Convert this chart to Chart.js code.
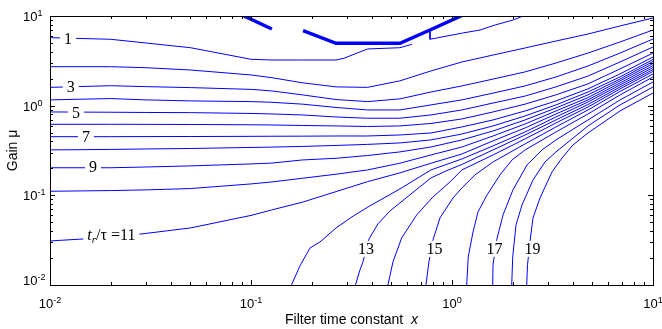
<!DOCTYPE html>
<html>
<head>
<meta charset="utf-8">
<script src="https://cdn.jsdelivr.net/npm/chart.js@4.4.0/dist/chart.umd.min.js"></script>
<style>
  html, body { margin: 0; padding: 0; background: #fff; }
  #wrap { width: 662px; height: 329px; }
</style>
</head>
<body>
<div id="wrap"><canvas id="gainChart" width="662" height="329"></canvas></div>
<script>
// Contours of t_r/tau over filter time constant x and gain mu (both log axes).
// Values.

// x positions shared by the contours that start at the left edge
const xGrid = [0.01, 0.02, 0.03, 0.05, 0.1, 0.127, 0.18, 0.265, 0.38, 0.55, 0.786, 1.12, 1.6, 2.31, 3.29, 4.75, 6.85, 10];

const gain2  = [2.72, 2.72, 2.65, 2.50, 2.20, 2.05, 1.80, 1.62, 1.60, 1.89, 2.44, 3.07, 3.67, 4.40, 5.26, 6.30, 7.74, 9.50];
const gain3  = [1.60, 1.67, 1.63, 1.59, 1.52, 1.46, 1.32, 1.17, 1.11, 1.19, 1.42, 1.66, 1.98, 2.38, 2.99, 3.86, 5.13, 6.98];
const gain4  = [1.16, 1.20, 1.16, 1.13, 1.11, 1.09, 1.04, 0.955, 0.896, 0.896, 1.02, 1.16, 1.38, 1.66, 2.09, 2.77, 3.86, 5.54];
const gain5  = [0.851, 0.845, 0.840, 0.836, 0.819, 0.808, 0.788, 0.748, 0.724, 0.724, 0.788, 0.896, 1.07, 1.28, 1.62, 2.14, 3.07, 4.51];
const gain6  = [0.620, 0.620, 0.619, 0.617, 0.612, 0.609, 0.601, 0.594, 0.586, 0.594, 0.633, 0.711, 0.851, 1.04, 1.32, 1.75, 2.57, 3.86];
const gain7  = [0.451, 0.451, 0.452, 0.453, 0.455, 0.456, 0.457, 0.459, 0.459, 0.471, 0.496, 0.579, 0.693, 0.873, 1.13, 1.54, 2.26, 3.49];
const gain8  = [0.321, 0.325, 0.329, 0.333, 0.342, 0.345, 0.351, 0.360, 0.370, 0.384, 0.415, 0.483, 0.594, 0.768, 1.02, 1.42, 2.09, 3.27];
const gain9  = [0.203, 0.203, 0.207, 0.213, 0.224, 0.229, 0.248, 0.259, 0.278, 0.305, 0.346, 0.415, 0.522, 0.693, 0.943, 1.32, 1.98, 3.11];
const gain10 = [0.111, 0.113, 0.115, 0.119, 0.134, 0.141, 0.155, 0.172, 0.192, 0.228, 0.282, 0.346, 0.459, 0.625, 0.873, 1.23, 1.89, 2.95];
const gain11 = [0.031, 0.034, 0.0376, 0.0433, 0.0597, 0.0688, 0.0838, 0.110, 0.142, 0.178, 0.228, 0.289, 0.405, 0.564, 0.808, 1.16, 1.79, 2.80];

// contour 1 (broken by the saturated ridge at the top)
const level1X  = [0.01, 0.02, 0.03, 0.05, 0.1, 0.127, 0.18, 0.265, 0.29, 0.38, 0.55, 0.632];
const level1Y  = [5.73, 5.50, 5.00, 4.43, 3.29, 3.23, 3.23, 3.23, 3.38, 4.29, 4.43, 4.84];
const level1bX = [0.777, 0.777, 1.13, 1.38, 1.64, 2.01, 2.26];
const level1bY = [6.86, 5.50, 6.46, 6.98, 7.94, 9.02, 10];

// thick ridge near the top
const ridgeAX = [0.0923, 0.127];
const ridgeAY = [10, 7.16];
const ridgeBX = [0.1815, 0.265, 0.551, 0.777, 1.109];
const ridgeBY = [6.86, 4.96, 4.96, 6.98, 10];

// contours that rise from the bottom edge
const level12X = [0.159, 0.1753, 0.1966, 0.2204, 0.265, 0.318, 0.382, 0.551, 0.786, 1.12, 1.60, 2.31, 3.29, 4.75, 6.85, 10];
const level12Y = [0.0100, 0.01637, 0.0259, 0.0302, 0.0433, 0.0575, 0.0742, 0.1179, 0.192, 0.2545, 0.356, 0.509, 0.748, 1.100, 1.701, 2.66];
const level13X = [0.331, 0.3485, 0.3607, 0.3865, 0.428, 0.4914, 0.551, 0.662, 0.786, 0.9335, 1.12, 1.60, 2.31, 3.29, 4.75, 6.85, 10];
const level13Y = [0.0100, 0.01474, 0.01815, 0.0326, 0.0480, 0.0670, 0.0823, 0.1149, 0.1562, 0.187, 0.221, 0.321, 0.471, 0.693, 1.031, 1.616, 2.53];
const level14X = [0.480, 0.5087, 0.562, 0.6675, 0.804, 0.977, 1.12, 1.60, 2.31, 3.29, 4.75, 6.85, 10];
const level14Y = [0.0100, 0.01815, 0.0335, 0.0605, 0.0960, 0.141, 0.192, 0.282, 0.426, 0.641, 0.967, 1.535, 2.41];
const level15X = [0.742, 0.768, 0.804, 0.8716, 1.0116, 1.12, 1.301, 1.60, 2.31, 3.29, 4.75, 6.85, 10];
const level15Y = [0.0100, 0.01815, 0.0318, 0.0560, 0.0935, 0.1209, 0.169, 0.2356, 0.3745, 0.579, 0.896, 1.439, 2.257];
const level16X = [1.183, 1.205, 1.272, 1.347, 1.494, 1.733, 1.989, 2.31, 3.29, 4.75, 6.85, 10];
const level16Y = [0.0100, 0.0206, 0.0390, 0.0654, 0.1010, 0.169, 0.248, 0.321, 0.509, 0.808, 1.316, 2.09];
const level17X = [1.594, 1.60, 1.669, 1.794, 2.01, 2.361, 2.805, 3.29, 4.75, 6.85, 10];
const level17Y = [0.0100, 0.0168, 0.0318, 0.0605, 0.1149, 0.218, 0.321, 0.415, 0.693, 1.158, 1.837];
const level18X = [1.982, 2.005, 2.082, 2.230, 2.529, 2.903, 3.29, 4.75, 6.85, 10];
const level18Y = [0.0100, 0.0206, 0.0468, 0.0781, 0.1485, 0.2356, 0.305, 0.594, 1.018, 1.616];
const level19X = [2.353, 2.375, 2.443, 2.529, 2.741, 3.145, 3.526, 4.0, 4.75, 6.85, 10];
const level19Y = [0.0100, 0.0168, 0.0302, 0.0560, 0.0935, 0.1824, 0.2608, 0.365, 0.496, 0.873, 1.384];

// contour labels (the "11" one gets the t_r/tau prefix)
const labelText = ['1', '3', '5', '7', '9', '11', '13', '15', '17', '19'];
const labelX = [0.0123, 0.0127, 0.01346, 0.0151, 0.01637, 0.0202, 0.373, 0.818, 1.627, 2.515];
const labelY = [5.50, 1.616, 0.840, 0.448, 0.207, 0.0362, 0.0253, 0.0253, 0.0253, 0.0253];

// decade tick labels (exponents of 10)
const tickExp = [-2, -1, 0, 1];

const BLUE = 'rgb(0,0,255)';

function line(xs, ys, width) {
  return {
    data: xs.map((x, i) => ({ x: x, y: ys[i] })),
    showLine: true,
    borderColor: BLUE,
    borderWidth: width || 1,
    pointRadius: 0,
    fill: false,
    tension: 0
  };
}

const datasets = [
  line(level1X, level1Y), line(level1bX, level1bY),
  line(xGrid, gain2), line(xGrid, gain3), line(xGrid, gain4), line(xGrid, gain5),
  line(xGrid, gain6), line(xGrid, gain7), line(xGrid, gain8), line(xGrid, gain9),
  line(xGrid, gain10), line(xGrid, gain11),
  line(level12X, level12Y), line(level13X, level13Y), line(level14X, level14Y),
  line(level15X, level15Y), line(level16X, level16Y), line(level17X, level17Y),
  line(level18X, level18Y), line(level19X, level19Y),
  line(ridgeAX, ridgeAY, 3.5), line(ridgeBX, ridgeBY, 3.5)
];

const SERIF = '"Liberation Serif", "Times New Roman", serif';
const SANS = '"Liberation Sans", Arial, sans-serif';

function drawPower(ctx, exp, x, baseY, align) {
  const base = '10', sup = String(exp);
  ctx.font = '13px ' + SANS;
  const wb = ctx.measureText(base).width;
  ctx.font = '9px ' + SANS;
  const ws = ctx.measureText(sup).width;
  const left = align === 'center' ? x - (wb + ws) / 2 : x;
  ctx.textAlign = 'left';
  ctx.textBaseline = 'alphabetic';
  ctx.font = '13px ' + SANS;
  ctx.fillText(base, left, baseY);
  ctx.font = '9px ' + SANS;
  ctx.fillText(sup, left + wb, baseY - 5);
}

function labelParts(text) {
  if (text === '11') {
    return [
      { t: 't', f: 'italic 16px ' + SERIF, dy: 0 },
      { t: 'r', f: 'italic 11px ' + SERIF, dy: 4 },
      { t: '/\u03c4 =11', f: '16px ' + SERIF, dy: 0 }
    ];
  }
  return [{ t: text, f: '16px ' + SERIF, dy: 0 }];
}

const overlay = {
  id: 'overlay',
  afterDatasetsDraw(chart) {
    const ctx = chart.ctx, xs = chart.scales.x, ys = chart.scales.y;
    ctx.save();
    ctx.textBaseline = 'middle';
    ctx.textAlign = 'left';
    labelText.forEach((txt, i) => {
      const parts = labelParts(txt);
      let w = 0;
      parts.forEach(p => { ctx.font = p.f; p.w = ctx.measureText(p.t).width; w += p.w; });
      const cx = xs.getPixelForValue(labelX[i]);
      const cy = ys.getPixelForValue(labelY[i]);
      ctx.fillStyle = '#fff';
      ctx.fillRect(cx - w / 2 - 4, cy - 8, w + 8, 16);
      ctx.fillStyle = '#000';
      let px = cx - w / 2;
      parts.forEach(p => { ctx.font = p.f; ctx.fillText(p.t, px, cy + 1 + p.dy); px += p.w; });
    });
    ctx.restore();
  },
  afterDraw(chart) {
    const ctx = chart.ctx, a = chart.chartArea, xs = chart.scales.x, ys = chart.scales.y;
    ctx.save();
    // inward ticks on all four sides
    ctx.strokeStyle = '#000';
    ctx.lineWidth = 1;
    ctx.beginPath();
    tickExp.forEach(e => {
      for (let m = 1; m <= 9; m++) {
        const v = m * Math.pow(10, e);
        if (v > 10.0001) continue;
        const len = m === 1 ? 5 : 3;
        const px = Math.round(xs.getPixelForValue(v)) + 0.5;
        ctx.moveTo(px, a.bottom); ctx.lineTo(px, a.bottom - len);
        ctx.moveTo(px, a.top); ctx.lineTo(px, a.top + len);
        const py = Math.round(ys.getPixelForValue(v)) + 0.5;
        ctx.moveTo(a.left, py); ctx.lineTo(a.left + len, py);
        ctx.moveTo(a.right, py); ctx.lineTo(a.right - len, py);
      }
    });
    ctx.stroke();
    ctx.strokeRect(Math.round(a.left) + 0.5, Math.round(a.top) + 0.5,
                   Math.round(a.right - a.left), Math.round(a.bottom - a.top));

    // tick labels
    ctx.fillStyle = '#000';
    tickExp.forEach(e => {
      const v = Math.pow(10, e);
      drawPower(ctx, e, xs.getPixelForValue(v), a.bottom + 23, 'center');
      const by = Math.min(ys.getPixelForValue(v) + 5, a.bottom);
      drawPower(ctx, e, 23, by, 'left');
    });

    // axis titles
    ctx.font = '14px ' + SANS;
    ctx.textBaseline = 'alphabetic';
    const t1 = 'Filter time constant  ';
    const w1 = ctx.measureText(t1).width;
    ctx.font = 'italic 14px ' + SANS;
    const w2 = ctx.measureText('x').width;
    const cx = (a.left + a.right) / 2;
    let sx = cx - (w1 + w2) / 2;
    ctx.textAlign = 'left';
    ctx.font = '14px ' + SANS;
    ctx.fillText(t1, sx, 324);
    ctx.font = 'italic 14px ' + SANS;
    ctx.fillText('x', sx + w1, 324);

    ctx.translate(17, (a.top + a.bottom) / 2);
    ctx.rotate(-Math.PI / 2);
    ctx.font = '14px ' + SANS;
    ctx.textAlign = 'center';
    ctx.fillText('Gain \u03bc', 0, 0);
    ctx.restore();
  }
};

new Chart(document.getElementById('gainChart').getContext('2d'), {
  type: 'scatter',
  data: { datasets: datasets },
  options: {
    responsive: false,
    animation: false,
    layout: { padding: { left: 50, right: 9, top: 16, bottom: 44 } },
    scales: {
      x: {
        type: 'logarithmic', min: 0.01, max: 10,
        ticks: { display: false },
        grid: { display: false, drawTicks: false },
        border: { display: false }
      },
      y: {
        type: 'logarithmic', min: 0.01, max: 10,
        ticks: { display: false },
        grid: { display: false, drawTicks: false },
        border: { display: false }
      }
    },
    plugins: { legend: { display: false }, tooltip: { enabled: false } }
  },
  plugins: [overlay]
});
</script>
</body>
</html>
